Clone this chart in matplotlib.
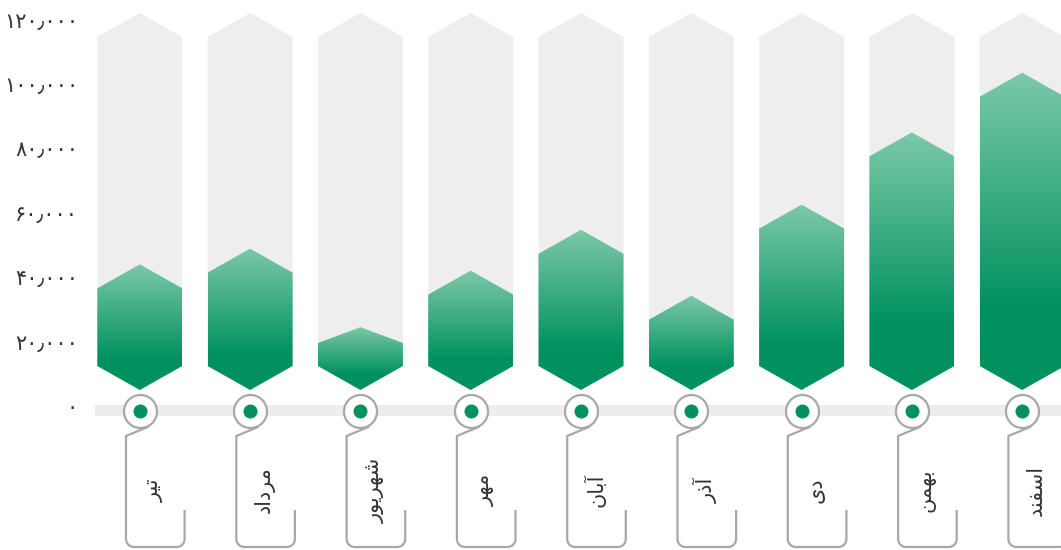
"""Monthly totals as hexagon columns with Persian labels."""
import matplotlib
matplotlib.use("Agg")
import matplotlib.pyplot as plt
import numpy as np
from matplotlib.patches import Polygon

plt.rcParams["font.family"] = ["DejaVu Sans"]

# data (Persian months, left to right)
months = ["تیر", "مرداد", "شهریور", "مهر", "آبان", "آذر", "دی", "بهمن", "اسفند"]
values = [40000, 45000, 20000, 38000, 51000, 30000, 59000, 82000, 101000]
y_max = 120000
y_ticks = [0, 20000, 40000, 60000, 80000, 100000, 120000]

W, H = 1061, 550
GREY = "#eeeeee"
LINE = "#a8a8a8"
DARK = np.array([0, 145, 94]) / 255
LIGHT = np.array([124, 201, 168]) / 255

# minimal Arabic-script shaping: (isolated, final, initial, medial)
FORMS = {
    "ا": ("\uFE8D", "\uFE8E", None, None),
    "آ": ("\uFE81", "\uFE82", None, None),
    "ب": ("\uFE8F", "\uFE90", "\uFE91", "\uFE92"),
    "ت": ("\uFE95", "\uFE96", "\uFE97", "\uFE98"),
    "د": ("\uFEA9", "\uFEAA", None, None),
    "ذ": ("\uFEAB", "\uFEAC", None, None),
    "ر": ("\uFEAD", "\uFEAE", None, None),
    "س": ("\uFEB1", "\uFEB2", "\uFEB3", "\uFEB4"),
    "ش": ("\uFEB5", "\uFEB6", "\uFEB7", "\uFEB8"),
    "ف": ("\uFED1", "\uFED2", "\uFED3", "\uFED4"),
    "م": ("\uFEE1", "\uFEE2", "\uFEE3", "\uFEE4"),
    "ن": ("\uFEE5", "\uFEE6", "\uFEE7", "\uFEE8"),
    "ه": ("\uFEE9", "\uFEEA", "\uFEEB", "\uFEEC"),
    "و": ("\uFEED", "\uFEEE", None, None),
    "ی": ("\uFEEF", "\uFEF0", "\uFEF3", "\uFEF4"),
}


def shape(word):
    out = []
    for k, ch in enumerate(word):
        f = FORMS.get(ch)
        if f is None:
            out.append(ch)
            continue
        prev = FORMS.get(word[k - 1]) if k > 0 else None
        nxt = FORMS.get(word[k + 1]) if k + 1 < len(word) else None
        join_prev = prev is not None and prev[2] is not None
        join_next = nxt is not None and f[2] is not None
        if join_prev and join_next:
            out.append(f[3])
        elif join_next:
            out.append(f[2])
        elif join_prev:
            out.append(f[1])
        else:
            out.append(f[0])
    return "".join(reversed(out))


def fa_num(v):
    s = f"{v:,}"
    return s.translate(str.maketrans("0123456789,", "۰۱۲۳۴۵۶۷۸۹٫"))


fig = plt.figure(figsize=(W / 100, H / 100), dpi=100)
left_px = 90
ax = fig.add_axes([left_px / W, 0, 1 - left_px / W, 1])

# pixel geometry of the column area
x0_px, step_px = 139.8, 110.3
base_px, top_px = 390.0, 13.0
ky = y_max / (base_px - top_px)          # value per pixel


def xd(px):
    return (px - x0_px) / step_px


def yd(py):
    return (base_px - py) * ky


ax.set_xlim(xd(left_px), xd(W))
ax.set_ylim(yd(H), yd(0))
ax.axis("off")

half_w = 42.5 / step_px
cap_px = 24.0


def hexagon(i, v):
    h_px = v / ky
    top_cap = min(cap_px, h_px - 47) * ky
    bot_cap = cap_px * ky
    return [
        (i, 0), (i + half_w, bot_cap), (i + half_w, v - top_cap),
        (i, v), (i - half_w, v - top_cap), (i - half_w, bot_cap),
    ]


grad_t = np.linspace(0, 1, 256)
for i, v in enumerate(values):
    bg = Polygon(hexagon(i, y_max), closed=True, facecolor=GREY, edgecolor="none", zorder=1)
    ax.add_patch(bg)

    poly = Polygon(hexagon(i, v), closed=True, facecolor="none", edgecolor="none", zorder=2)
    ax.add_patch(poly)
    f = np.clip(grad_t / 0.75, 0, 1)[:, None]
    rgb = LIGHT + (DARK - LIGHT) * f
    img = np.repeat(rgb[:, None, :], 2, axis=1)
    im = ax.imshow(img, extent=[i - half_w, i + half_w, 0, v], origin="upper",
                   aspect="auto", zorder=2, interpolation="bilinear")
    im.set_clip_path(poly)

# baseline band
ax.fill_between([xd(95), xd(W)], yd(405), yd(416), color="#ededed", lw=0, zorder=1)

# markers on the band
cx = np.arange(len(values))
cy = np.full(len(values), yd(410.7))
ax.scatter(cx, cy, s=(33 / 100 * 72) ** 2, facecolor="white", edgecolor=LINE,
           linewidth=1.6, zorder=4, clip_on=False)
ax.scatter(cx, cy, s=(14 / 100 * 72) ** 2, color=DARK, linewidth=0, zorder=5)


def corner(cxp, cyp, r, a0, a1):
    a = np.radians(np.linspace(a0, a1, 12))
    return cxp + r * np.cos(a), cyp + r * np.sin(a)


for i, name in enumerate(months):
    c = x0_px + step_px * i
    lx, rx, by, r = c - 13.8, c + 44.8, 547.0, 8.0
    xs = [c + 8.8, lx, lx]
    ys = [426.6, 436.0, by - r]
    ax1x, ax1y = corner(lx + r, by - r, r, 180, 90)
    xs += list(ax1x)
    ys += list(ax1y)
    ax2x, ax2y = corner(rx - r, by - r, r, 90, 0)
    xs += list(ax2x)
    ys += list(ax2y)
    xs += [rx]
    ys += [510.0]
    ax.plot([xd(p) for p in xs], [yd(p) for p in ys], color=LINE, lw=1.6,
            solid_capstyle="butt", zorder=3, clip_on=False)
    ax.text(xd(c + 14), yd(490), shape(name), rotation=90, ha="center", va="center",
            fontsize=15, color="#333333", zorder=5)

# value axis labels (own scale, placed like the reference)
lab = ax.twinx()
lab.set_position(ax.get_position())
zero_px, full_px = 406.0, 19.5
kl = y_max / (zero_px - full_px)
lab.set_ylim(-(H - zero_px) * kl, zero_px * kl)
lab.yaxis.tick_left()
lab.set_yticks(y_ticks)
lab.set_yticklabels([fa_num(t) for t in y_ticks])
lab.tick_params(axis="y", length=0, pad=(left_px - 78) * 0.72, labelsize=15,
                labelcolor="#333333")
for s in lab.spines.values():
    s.set_visible(False)
lab.set_xticks([])

fig.savefig("out.png", dpi=100)
